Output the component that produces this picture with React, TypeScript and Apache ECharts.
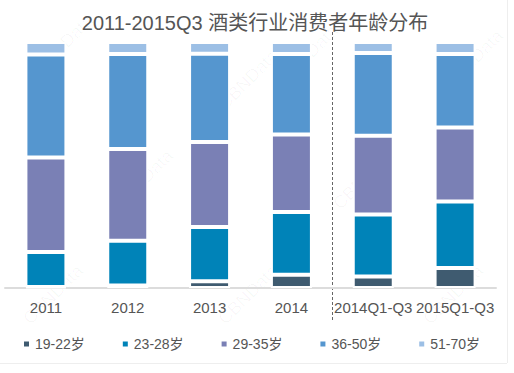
import React, { useEffect, useRef } from "react";
import * as echarts from "echarts";

const titleText = "2011-2015Q3 酒类行业消费者年龄分布";
const categories = ["2011", "2012", "2013", "2014", "2014Q1-Q3", "2015Q1-Q3"];
const seriesNames = ["19-22岁", "23-28岁", "29-35岁", "36-50岁", "51-70岁"];
const age19_22 = [0.4, 1.0, 2.7, 5.4, 4.7, 8.1];
const age23_28 = [14.2, 18.2, 22.1, 25.5, 25.2, 27.1];
const age29_35 = [38.4, 37.3, 34.6, 31.5, 32.0, 30.0];
const age36_50 = [41.9, 38.6, 35.8, 32.7, 33.6, 29.9];
const age51_70 = [5.1, 4.9, 4.8, 4.9, 4.5, 4.9];
const colors = ["#3f5b70", "#0083b8", "#7a80b5", "#5596cf", "#9cbfe5"];
const watermarks = [
  [30, 65], [215, 100], [440, 80], [275, 75], [20, 315], [215, 315], [420, 315], [110, 200], [330, 200],
];

export default function App() {
  const ref = useRef<HTMLDivElement>(null);
  useEffect(() => {
    if (!ref.current) return;
    const chart = echarts.init(ref.current, null, { renderer: "svg" });
    const allData = [age19_22, age23_28, age29_35, age36_50, age51_70];
    const font = "'Liberation Sans', 'Noto Sans CJK SC', sans-serif";
    chart.setOption({
      animation: false,
      backgroundColor: "#fff",
      color: colors,
      title: {
        text: titleText,
        left: 250,
        textAlign: "center",
        top: 8,
        textStyle: { fontSize: 20, fontWeight: "normal", color: "#555", fontFamily: font },
      },
      legend: {
        data: seriesNames,
        left: 17,
        top: 332,
        icon: "rect",
        itemWidth: 7,
        itemHeight: 7,
        itemGap: 36,
        textStyle: { fontSize: 14, color: "#555", fontFamily: font },
      },
      grid: { left: 5, right: 18, top: 42, bottom: 85 },
      xAxis: {
        type: "category",
        data: categories,
        axisLine: { lineStyle: { color: "#dcdcdc", width: 2 } },
        axisTick: { show: false },
        axisLabel: { interval: 0, hideOverlap: false, fontSize: 15, color: "#555", margin: 12, fontFamily: font },
      },
      yAxis: { type: "value", min: 0, max: 100, show: false, splitLine: { show: false } },
      series: seriesNames.map((name, i) => ({
        name,
        type: "bar",
        stack: "total",
        barWidth: 41,
        data: allData[i],
        itemStyle: { color: colors[i], borderColor: "#fff", borderWidth: 2 },
      })),
    });
    const x1 = chart.convertToPixel({ xAxisIndex: 0 }, 3) as number;
    const x2 = chart.convertToPixel({ xAxisIndex: 0 }, 4) as number;
    const mid = Math.round((x1 + x2) / 2) + 0.5;
    chart.setOption({
      graphic: [
        ...watermarks.map(([x, y]) => ({
          type: "text",
          x,
          y,
          rotation: Math.PI / 4,
          z: -1,
          style: { text: "CBNData", fontSize: 18, fill: "rgba(0,0,0,0.03)", fontFamily: font },
        })),
        {
          type: "line",
          shape: { x1: mid, y1: 32, x2: mid, y2: 322 },
          style: { stroke: "#666", lineWidth: 1, lineDash: [3, 2] },
        },
        { type: "line", shape: { x1: 507.5, y1: 0, x2: 507.5, y2: 363 }, style: { stroke: "#eee", lineWidth: 1 } },
        { type: "line", shape: { x1: 0, y1: 363.5, x2: 507, y2: 363.5 }, style: { stroke: "#eee", lineWidth: 1 } },
      ],
    });
    return () => chart.dispose();
  }, []);
  return <div ref={ref} style={{ position: "absolute", left: 0, top: 0, width: 514, height: 373 }} />;
}
